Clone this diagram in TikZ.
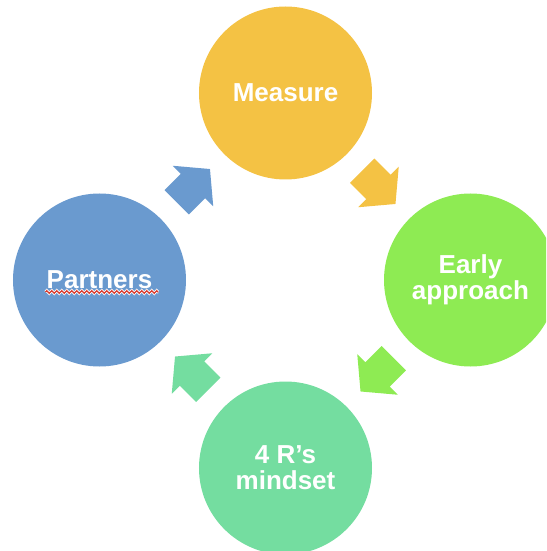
\documentclass[tikz,border=0pt]{standalone}
\usepackage{fontspec}
\setmainfont{Liberation Sans}
\usetikzlibrary{calc}
\usetikzlibrary{shapes.arrows}
\usetikzlibrary{decorations.pathmorphing}
\definecolor{measure}{HTML}{F4C244}
\definecolor{early}{HTML}{8EEB53}
\definecolor{mindset}{HTML}{74DDA0}
\definecolor{partners}{HTML}{6A9ACF}
\definecolor{spellred}{HTML}{D73A2D}
\tikzset{
    % One stage of the cycle: a big plain disk with white bold text
    stage disk/.style={
        circle, fill=#1, minimum size=173pt, inner sep=0,
        text=white, align=center, font=\bfseries\fontsize{26}{26}\selectfont},
%
    % Fat block arrow leading on to the next stage
    % (the shaft width comes from inner ysep, the node being empty;
    % the shift pulls the tip back so the arrow is centred)
    stage arrow/.style={
        single arrow, fill=#1, inner xsep=0, inner ysep=17pt,
        minimum height=47pt, single arrow head extend=11.5pt,
        single arrow tip angle=100, xshift=-6pt},
%
    % Wavy underline left by the spell checker
    squiggle/.style={decorate,
        decoration={zigzag, segment length=5pt, amplitude=1.4pt}}}

\begin{document}
\begin{tikzpicture}[x=1pt, y=1pt]

\useasboundingbox (-285.5,-271) rectangle (260.5,280);
\clip (-285.5,-271) rectangle (260.5,280);

\node (measure) [stage disk=measure] at (0,187) {Measure};
\node (early) [stage disk=early] at (185,0) {Early\\approach};
\node (mindset) [stage disk=mindset] at (0,-188) {4 R’s\\mindset};
\node (partners) [stage disk=partners] at (-186,0) {Partners};

% arrows sit half way between neighbouring stages
\node (pm arrow) [rotate=45, stage arrow=partners]
    at ($(partners)!0.5!(measure)$) {};
\node (me arrow) [rotate=-45, stage arrow=measure]
    at ($(measure)!0.5!(early)$) {};
\node (em arrow) [rotate=-135, stage arrow=early]
    at ($(early)!0.5!(mindset)$) {};
\node (mp arrow) [rotate=135, stage arrow=mindset]
    at ($(mindset)!0.5!(partners)$) {};

\coordinate (squiggle start) at ($(partners.center)+(-54,-12)$);
\coordinate (squiggle end) at ($(partners.center)+(59,-12)$);
\draw [white, line width=2.8pt, squiggle] (squiggle start) -- (squiggle end);
\draw [spellred, line width=1.2pt, squiggle] (squiggle start) -- (squiggle end);

\end{tikzpicture}
\end{document}
